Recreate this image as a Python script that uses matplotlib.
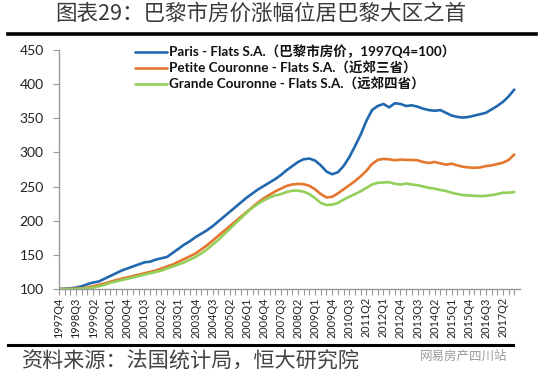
import matplotlib
matplotlib.use("Agg")
import matplotlib.pyplot as plt
from matplotlib.lines import Line2D

plt.rcParams['font.family'] = ['Lato', 'Noto Sans CJK SC', 'DejaVu Sans']

# ---- data ----
start_year, start_q = 1997, 4
n_quarters = 81
quarters = []
y, q = start_year, start_q
for _ in range(n_quarters):
    quarters.append(f"{y}Q{q}")
    q += 1
    if q > 4:
        q = 1
        y += 1

paris = [100, 100.5, 101, 102, 104, 107, 109.5, 111, 115, 119,
         123, 127, 130, 133, 136, 139, 140, 143, 145, 147,
         153, 159, 165, 170, 176, 181, 186, 192, 199, 206,
         213, 220, 227, 234, 240, 246, 251, 256, 261, 267,
         274, 280, 286, 290, 291, 288, 281, 272, 268, 271,
         280, 293, 309, 326, 346, 362, 368, 371, 366, 372,
         371, 368, 369, 367, 364, 362, 361, 362, 358, 354,
         352, 351, 352, 354, 356, 358, 363, 368, 374, 382,
         392]

petite = [100, 100, 100, 100.5, 101, 102, 104, 106, 108, 110.5,
          113, 115, 117, 119, 121, 123, 125, 127, 130, 133,
          136, 140, 144, 148, 152, 158, 164, 171, 178, 185,
          192, 199, 206, 213, 220, 227, 233, 238, 243, 247,
          251, 253, 254, 253.5, 251, 246, 239, 234, 235, 240,
          246, 252, 258, 265, 273, 283, 289, 290.5, 290, 288.5,
          289.5, 289, 289, 288.5, 286, 284.5, 286, 284, 282, 283.5,
          281, 279, 278, 277.5, 278, 280, 281, 283, 285, 289,
          297]

grande = [100, 100, 100, 100, 100.5, 101, 102, 104, 106, 109,
          111, 113, 115, 117, 119, 121, 123, 125, 127, 130,
          133, 136, 139, 143, 147, 152, 158, 165, 172, 180,
          188, 196, 204, 212, 219, 225, 230, 234, 237, 239,
          242, 244, 244, 242.5, 239, 233, 226, 223, 223.5, 226,
          231, 235, 239, 243, 248, 253, 255.5, 256, 256.5, 254,
          253, 254.5, 253, 252, 250, 248, 247, 245, 243.5, 241,
          239, 237.5, 237, 236.5, 236, 236.5, 237.5, 239, 241, 241,
          242]

series_names = ["Paris - Flats S.A.（巴黎市房价，1997Q4=100）",
                "Petite Couronne - Flats S.A.（近郊三省）",
                "Grande Couronne - Flats S.A.（远郊四省）"]
series_values = [paris, petite, grande]
series_colors = ['#2168AE', '#E4762E', '#93CF5A']

y_ticks = [100, 150, 200, 250, 300, 350, 400, 450]

title = "图表29：巴黎市房价涨幅位居巴黎大区之首"
source = "资料来源：法国统计局，恒大研究院"
watermark = "网易房产四川站"

# ---- figure ----
fig = plt.figure(figsize=(5.5, 3.79), dpi=100)
fig.patch.set_facecolor('white')
ax = fig.add_axes([59/550, 1-289/379, (520-59)/550, (289-50)/379])

xs = list(range(n_quarters))
for name, vals, col in zip(series_names, series_values, series_colors):
    ax.plot(xs, vals, color=col, lw=1.9, label=name, solid_capstyle='round')

ax.set_xlim(0, n_quarters)
ax.set_ylim(100, 450)
ax.set_yticks(y_ticks)
ax.set_yticklabels([str(v) for v in y_ticks], fontsize=10, color='#222222')
ax.set_xticks(xs)
ax.set_xticklabels([quarters[i] if i % 3 == 0 else '' for i in xs],
                   rotation=90, fontsize=7.8, color='#222222', family=['Lato', 'DejaVu Sans'])
ax.tick_params(axis='x', length=4, width=0.8, color='#999999', pad=2)
ax.tick_params(axis='y', length=4, width=0.8, color='#999999', pad=7)
for s in ['top', 'right']:
    ax.spines[s].set_visible(False)
for s in ['left', 'bottom']:
    ax.spines[s].set_color('#999999')
    ax.spines[s].set_linewidth(1.0)

leg = ax.legend(loc='upper left', bbox_to_anchor=(128/550, 1-38/379),
                bbox_transform=fig.transFigure, frameon=False, borderpad=0,
                handlelength=2.4, handletextpad=0.15, labelspacing=0.22,
                prop={'family': ['Lato', 'Noto Sans CJK SC'], 'weight': 'bold', 'size': 9.7})
for t in leg.get_texts():
    t.set_color('#111111')

# title & rules
fig.text(55/550, 1-14/379, title, fontsize=15.5, va='center', ha='left',
         family=['Noto Sans CJK SC'], color='#3a3a3a')
fig.add_artist(Line2D([8/550, 536/550], [1-34/379, 1-34/379], color='black', lw=2.6,
                      transform=fig.transFigure))
fig.add_artist(Line2D([8/550, 513/550], [1-345/379, 1-345/379], color='black', lw=2.2,
                      transform=fig.transFigure))
fig.text(22/550, 1-362/379, source, fontsize=15.2, va='center', ha='left',
         family=['Noto Sans CJK SC'], style='italic', color='#444444')
fig.text(420/550, 1-356/379, watermark, fontsize=9, va='center', ha='left',
         family=['Noto Sans CJK SC'], color='#9a9a9a')

fig.savefig('out.png', dpi=100, facecolor='white')
